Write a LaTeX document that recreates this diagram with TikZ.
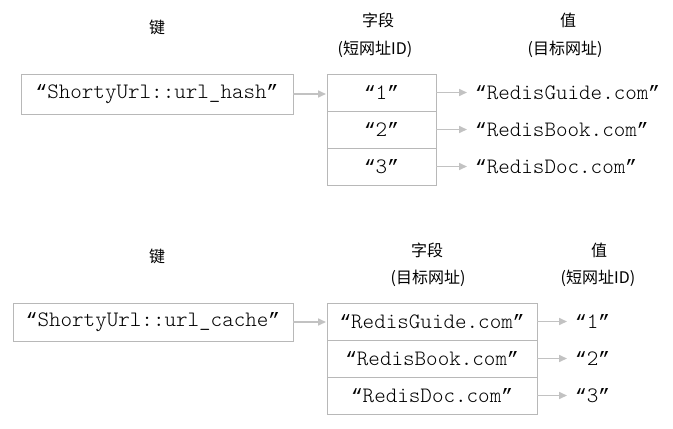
\documentclass[tikz,border=0pt]{standalone}
\usepackage{fontspec}
\setmonofont{Latin Modern Mono Light}
\newfontfamily\quotefont{Liberation Mono}
\newfontfamily\cjk{Noto Sans CJK SC}
\usetikzlibrary{positioning,arrows.meta}
\definecolor{boxgray}{HTML}{B8B8B8}
\definecolor{arrowgray}{HTML}{C2C2C2}

% mono text between slanted quotes
\newcommand{\quoted}[1]{{\quotefont\fontsize{19.3}{25}\selectfont “}#1{\quotefont\fontsize{19.3}{25}\selectfont ”}}

\tikzset{
  keybox/.style={draw=boxgray, line width=1pt, inner sep=0pt, outer sep=0pt,
    font=\ttfamily\fontsize{22}{25}\selectfont},
  cellbox/.style={keybox, minimum height=37pt},
  valtext/.style={inner sep=0pt, anchor=west, font=\ttfamily\fontsize{22}{25}\selectfont},
  headtext/.style={inner sep=0pt, font=\cjk\fontsize{16}{19}\selectfont},
  link/.style={draw=arrowgray, line width=1.6pt, shorten >=8pt,
    -{Triangle[length=8pt,width=7pt]}}
}

\begin{document}
\begin{tikzpicture}[x=1pt, y=-1pt]
    \useasboundingbox (0,0) rectangle (673,429);

    % hash: short id -> target url
    \node[headtext] (hashkeyhead) at (157,27) {键};
    \node[headtext] (hashfieldhead) at (378,20) {字段};
    \node[headtext] (hashfieldsub) at (375,49) {(短网址ID)};
    \node[headtext] (hashvalhead) at (568,20) {值};
    \node[headtext] (hashvalsub) at (565,49) {(目标网址)};

    \node[keybox, minimum width=272pt, minimum height=40pt] (hashkey) at (157,94) {\quoted{ShortyUrl::url\_hash}};
    \node[cellbox, minimum width=109pt] (hf1) at (381.5,92.5) {\quoted{1}};
    \node[cellbox, minimum width=109pt, below=0pt of hf1] (hf2) {\quoted{2}};
    \node[cellbox, minimum width=109pt, below=0pt of hf2] (hf3) {\quoted{3}};

    \node[valtext, right=39pt of hf1] (hv1) {\quoted{RedisGuide.com}};
    \node[valtext, right=39pt of hf2] (hv2) {\quoted{RedisBook.com}};
    \node[valtext, right=39pt of hf3] (hv3) {\quoted{RedisDoc.com}};

    \draw[link, shorten >=1pt] (hashkey.east) -- (hashkey.east -| hf1.west);
    \draw[link] (hf1.east) -- (hv1.west);
    \draw[link] (hf2.east) -- (hv2.west);
    \draw[link] (hf3.east) -- (hv3.west);

    % cache: target url -> short id
    \node[headtext] (cachekeyhead) at (157,256) {键};
    \node[headtext] (cachefieldhead) at (427,250) {字段};
    \node[headtext] (cachefieldsub) at (428,278) {(目标网址)};
    \node[headtext] (cachevalhead) at (599,250) {值};
    \node[headtext] (cachevalsub) at (598,278) {(短网址ID)};

    \node[keybox, minimum width=280pt, minimum height=38pt] (cachekey) at (153,322) {\quoted{ShortyUrl::url\_cache}};
    \node[cellbox, minimum width=210pt] (cf1) at (432,321.5) {\quoted{RedisGuide.com}};
    \node[cellbox, minimum width=210pt, below=0pt of cf1] (cf2) {\quoted{RedisBook.com}};
    \node[cellbox, minimum width=210pt, below=0pt of cf2] (cf3) {\quoted{RedisDoc.com}};

    \node[valtext, right=38pt of cf1] (cv1) {\quoted{1}};
    \node[valtext, right=38pt of cf2] (cv2) {\quoted{2}};
    \node[valtext, right=38pt of cf3] (cv3) {\quoted{3}};

    \draw[link, shorten >=1pt] (cachekey.east) -- (cachekey.east -| cf1.west);
    \draw[link] (cf1.east) -- (cv1.west);
    \draw[link] (cf2.east) -- (cv2.west);
    \draw[link] (cf3.east) -- (cv3.west);
\end{tikzpicture}
\end{document}
